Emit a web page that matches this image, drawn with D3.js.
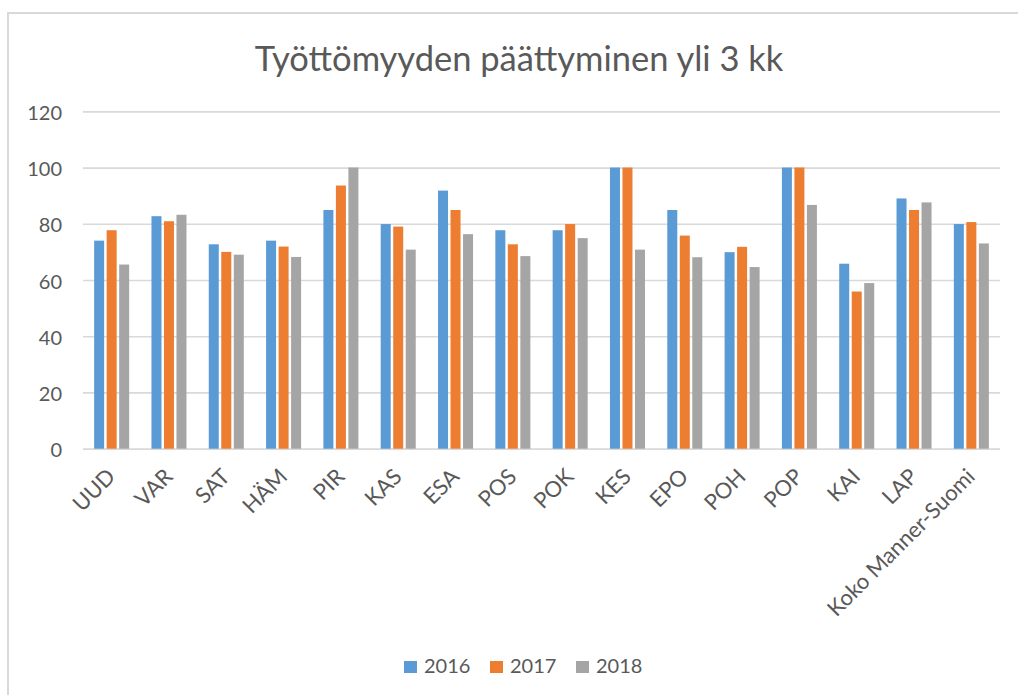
<!DOCTYPE html>
<html>
<head>
<meta charset="utf-8">
<script src="https://cdn.jsdelivr.net/npm/d3@7"></script>
<style>
  body { margin: 0; background: #fff; }
  svg { display: block; font-family: Lato, 'Open Sans', sans-serif; }
</style>
</head>
<body>
<svg class="chart" width="1018" height="695"></svg>
<script>
const regions = ['UUD', 'VAR', 'SAT', 'HÄM', 'PIR', 'KAS', 'ESA', 'POS', 'POK', 'KES', 'EPO', 'POH', 'POP', 'KAI', 'LAP', 'Koko Manner-Suomi'];
const years = ['2016', '2017', '2018'];
const values2016 = [74.0, 82.7, 72.7, 74.0, 84.9, 79.9, 91.8, 77.7, 77.7, 100, 84.9, 69.9, 100, 65.8, 89.0, 79.9];
const values2017 = [77.7, 80.9, 70.0, 71.9, 93.6, 79.0, 84.9, 72.7, 79.9, 100, 75.8, 71.8, 100, 55.9, 84.9, 80.6];
const values2018 = [65.5, 83.2, 69.0, 68.2, 100, 70.8, 76.3, 68.5, 74.9, 70.8, 68.1, 64.6, 86.7, 58.9, 87.6, 73.0];
const yTicks = [0, 20, 40, 60, 80, 100, 120];
const title = 'Työttömyyden päättyminen yli 3 kk';

const seriesValues = [values2016, values2017, values2018];
const data = regions.map((r, i) => ({
    region: r,
    vals: years.map((y, j) => ({ year: y, value: seriesValues[j][i] }))
}));

const svg = d3.select('.chart');
const textColor = '#595959';

// outer chart border (only top and left edges are visible in the picture)
svg.append('rect')
    .attr('x', 8)
    .attr('y', 13)
    .attr('width', 1030)
    .attr('height', 700)
    .attr('fill', 'none')
    .attr('stroke', '#d9d9d9')
    .attr('stroke-width', 2);

const plot = { left: 83, right: 1000, top: 111.3, bottom: 448.7 };

const xScale = d3.scaleBand()
    .domain(regions)
    .range([plot.left, plot.right])
    .paddingInner(0.389)
    .paddingOuter(0.1945);

const xInner = d3.scaleBand()
    .domain(years)
    .range([0, xScale.bandwidth()])
    .paddingInner(0.2);

const yScale = d3.scaleLinear()
    .domain([0, 120])
    .range([plot.bottom, plot.top]);

const color = d3.scaleOrdinal()
    .domain(years)
    .range(['#5b9bd5', '#ed7d31', '#a5a5a5']);

// title
svg.append('text')
    .attr('x', 519)
    .attr('y', 71)
    .attr('text-anchor', 'middle')
    .attr('fill', textColor)
    .style('font-size', '34.5px')
    .text(title);

// gridlines + y labels
const yAxis = svg.append('g')
    .attr('transform', `translate(${plot.left},0)`)
    .call(d3.axisLeft(yScale)
        .tickValues(yTicks)
        .tickSize(-(plot.right - plot.left))
        .tickPadding(21));

yAxis.select('.domain').remove();
yAxis.selectAll('.tick line')
    .attr('stroke', '#d9d9d9')
    .attr('stroke-width', 1.7);
yAxis.selectAll('.tick text')
    .attr('fill', textColor)
    .attr('dy', '0.4em')
    .style('font-size', '20px')
    .style('font-family', 'Lato, sans-serif');

// bars
svg.append('g')
    .selectAll('g')
    .data(data)
    .join('g')
    .attr('transform', d => `translate(${xScale(d.region)},0)`)
    .selectAll('rect')
    .data(d => d.vals)
    .join('rect')
    .attr('x', d => xInner(d.year))
    .attr('y', d => yScale(d.value))
    .attr('width', xInner.bandwidth())
    .attr('height', d => yScale(0) - yScale(d.value))
    .attr('fill', d => color(d.year));

// x labels, rotated
svg.append('g')
    .selectAll('text')
    .data(regions)
    .join('text')
    .attr('transform', d => `translate(${xScale(d) + xScale.bandwidth() / 2 + 5},478) rotate(-45)`)
    .attr('text-anchor', 'end')
    .attr('fill', textColor)
    .style('font-size', '22px')
    .text(d => d);

// legend
const legend = svg.append('g')
    .selectAll('g')
    .data(years)
    .join('g')
    .attr('transform', (d, i) => `translate(${404 + i * 86},661)`);

legend.append('rect')
    .attr('width', 13)
    .attr('height', 12)
    .attr('fill', d => color(d));

legend.append('text')
    .attr('x', 20)
    .attr('y', 12)
    .attr('fill', textColor)
    .style('font-size', '20px')
    .text(d => d);
</script>
</body>
</html>
